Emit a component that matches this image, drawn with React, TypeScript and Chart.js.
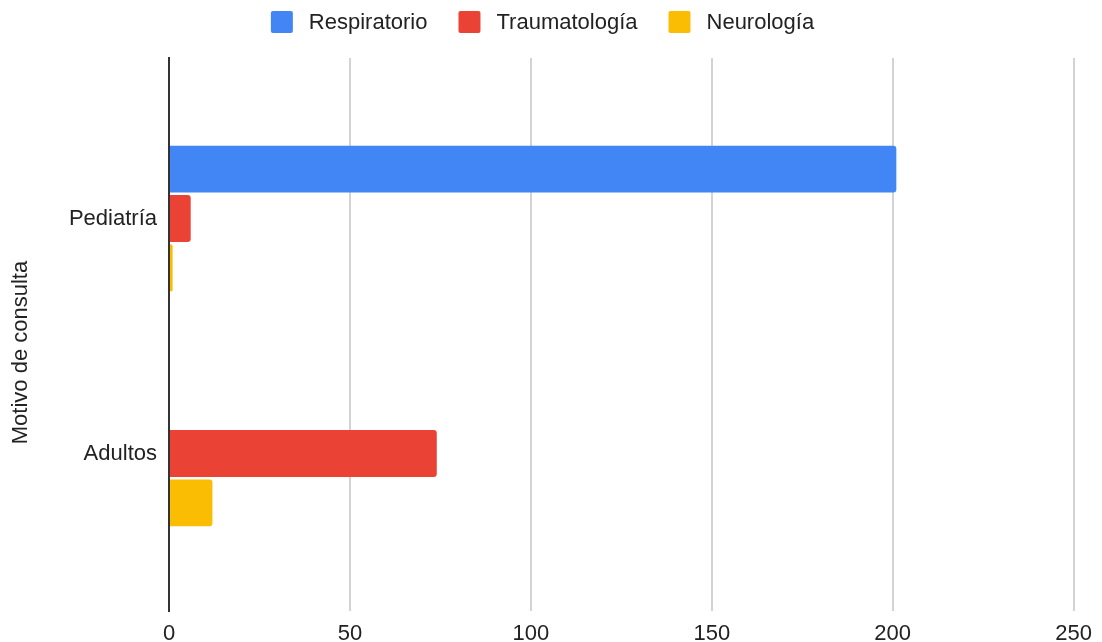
import React, { useEffect, useRef } from 'react';
import { Chart, registerables } from 'chart.js';

Chart.register(...registerables);

const categories = ['Pediatría', 'Adultos'];
const seriesNames = ['Respiratorio', 'Traumatología', 'Neurología'];
const respiratorio = [201, 0];
const traumatologia = [6, 74];
const neurologia = [1, 12];
const seriesColors = ['#4285F4', '#EA4335', '#FBBC04'];
const xTickStep = 50;
const xMin = 0;
const xMax = 250;
const yAxisTitle = 'Motivo de consulta';

const FONT = "'Liberation Sans', Arial, sans-serif";
const TEXT = '#222222';

const legendPlugin = {
  id: 'customLegend',
  afterDraw(chart: any) {
    const ctx = chart.ctx;
    ctx.save();
    ctx.font = `22px ${FONT}`;
    const box = 22;
    const gapText = 16;
    const gapItem = 31;
    const items = chart.data.datasets.map((ds: any) => ({
      label: ds.label,
      color: ds.backgroundColor,
      w: ctx.measureText(ds.label).width,
    }));
    const total =
      items.reduce((s: number, it: any) => s + box + gapText + it.w, 0) +
      gapItem * (items.length - 1);
    let x = chart.width / 2 - 8.5 - total / 2;
    const cy = 22;
    items.forEach((it: any) => {
      ctx.fillStyle = it.color;
      ctx.beginPath();
      (ctx as any).roundRect(x, cy - box / 2, box, box, 2);
      ctx.fill();
      ctx.fillStyle = TEXT;
      ctx.textBaseline = 'middle';
      ctx.textAlign = 'left';
      ctx.fillText(it.label, x + box + gapText, cy + 1);
      x += box + gapText + it.w + gapItem;
    });
    ctx.restore();
  },
};

const axisTitlePlugin = {
  id: 'yAxisTitle',
  afterDraw(chart: any) {
    const ctx = chart.ctx;
    const area = chart.chartArea;
    ctx.save();
    ctx.font = `22px ${FONT}`;
    ctx.fillStyle = TEXT;
    ctx.textAlign = 'center';
    ctx.textBaseline = 'middle';
    ctx.translate(21, (area.top + area.bottom) / 2 + 18);
    ctx.rotate(-Math.PI / 2);
    ctx.fillText(yAxisTitle, 0, 0);
    ctx.restore();
  },
};

export default function App() {
  const ref = useRef<HTMLCanvasElement>(null);
  useEffect(() => {
    if (!ref.current) return;
    const seriesValues = [respiratorio, traumatologia, neurologia];
    const chart = new Chart(ref.current, {
      type: 'bar',
      data: {
        datasets: seriesNames.map((name, si) => ({
          label: name,
          data: seriesValues[si].map((v, i) => ({ x: v, y: i })),
          backgroundColor: seriesColors[si],
          borderRadius: 3,
          categoryPercentage: 0.63,
          barPercentage: 0.95,
        })),
      },
      options: {
        indexAxis: 'y',
        animation: false,
        responsive: true,
        maintainAspectRatio: false,
        layout: { padding: { top: 58, right: 27, bottom: 0, left: 0 } },
        plugins: { legend: { display: false }, tooltip: { enabled: false } },
        scales: {
          x: {
            type: 'linear',
            min: xMin,
            max: xMax,
            ticks: {
              stepSize: xTickStep,
              padding: 10,
              maxRotation: 0,
              font: { family: FONT, size: 22 },
              color: TEXT,
            },
            grid: {
              color: (c: any) => (c.tick && c.tick.value === 0 ? '#333333' : '#d3d3d3'),
              lineWidth: 2,
              drawTicks: false,
            },
            border: { display: false },
            afterFit: (s: any) => {
              s.height = 31;
            },
          },
          y: {
            type: 'linear',
            reverse: true,
            offset: false,
            min: -0.683,
            max: 1.67,
            z: 1,
            afterBuildTicks: (s: any) => {
              s.ticks = categories.map((_, i) => ({ value: i }));
            },
            ticks: {
              callback: (v: any) => categories[v as number] ?? '',
              padding: 12,
              font: { family: FONT, size: 22 },
              color: TEXT,
            },
            grid: { display: false, drawTicks: false },
            border: { display: true, color: '#333333', width: 2 },
            title: { display: false, text: yAxisTitle },
            afterFit: (s: any) => {
              s.width = 169;
            },
          },
        },
      } as any,
      plugins: [legendPlugin, axisTitlePlugin],
    });
    return () => chart.destroy();
  }, []);
  return (
    <div style={{ position: 'fixed', left: 0, top: 0, width: 1102, height: 642 }}>
      <canvas ref={ref} />
    </div>
  );
}
